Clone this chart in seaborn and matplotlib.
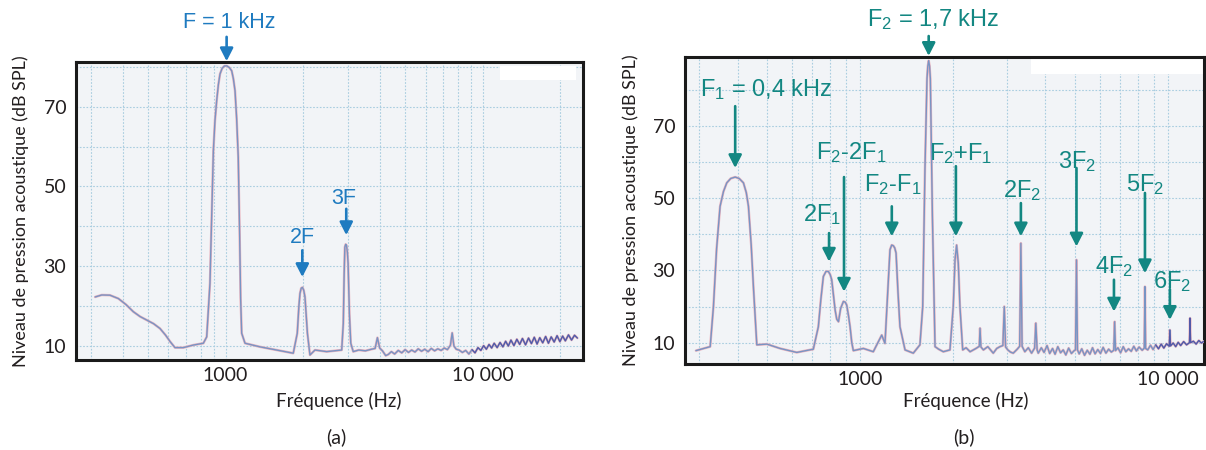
import pandas as pd
import matplotlib.pyplot as plt
import seaborn as sns
from matplotlib.patches import Rectangle

# ---- spectre (a) : son pur F = 1 kHz ----
freq_a = [311, 330, 355, 383, 410, 438, 465, 494, 525, 556, 585, 609, 636, 685, 750, 820, 845,
          870, 883, 897, 910, 924, 938, 952, 970, 990, 1011, 1035, 1057, 1073, 1089, 1105, 1121,
          1135, 1145, 1156, 1191, 1362, 1582, 1835, 1902, 1930, 1949, 1970, 1992, 2015, 2038,
          2060, 2083, 2131, 2229, 2475, 2832, 2873, 2895, 2913, 2935, 2956, 2980, 2999, 3035,
          3072, 3140, 3300, 3500, 3700, 3820, 3900, 3980, 4080, 4200, 4300, 4420, 4550, 4700,
          4850, 5000, 5150, 5300, 5460, 5620, 5790, 5960, 6140, 6320, 6510, 6700, 6900, 7100,
          7300, 7500, 7620, 7740, 7900, 8100, 8350, 8600, 8850, 9100, 9350, 9600, 9850, 10100,
          10350, 10600, 10850, 11100, 11400, 11700, 12000, 12300, 12600, 12900, 13250, 13600,
          13950, 14300, 14700, 15100, 15500, 15900, 16300, 16700, 17150, 17600, 18050, 18500,
          19000, 19500, 20000, 20500, 21000, 21600, 22200, 22800, 23400]
niveau_a = [22.3, 22.8, 22.75, 21.9, 20.4, 18.6, 17.4, 16.5, 15.6, 14.4, 12.7, 11.1, 9.6, 9.6,
            10.25, 10.7, 12.3, 25.7, 42, 59, 66.5, 71.5, 75.5, 78.2, 79.6, 80.2, 80.25, 79.8, 79,
            77, 74, 67, 57.3, 38, 22, 13.2, 10.7, 9.8, 9.0, 8.2, 13.2, 20, 23.2, 24.5, 24.7, 24,
            22.3, 18, 13.2, 7.75, 9.0, 8.6, 9.0, 15.7, 28, 34.8, 35.5, 35.25, 33.5, 30.7, 18,
            10.7, 8.6, 9.0, 8.8, 9.2, 9.4, 12.1, 9.5, 8.8, 7.6, 7.9, 8.6, 8.0, 8.9, 8.3, 9.1, 8.4,
            9.0, 8.5, 9.3, 8.7, 9.2, 8.6, 9.4, 8.8, 9.3, 8.9, 9.5, 9.1, 10.2, 13.3, 10.0, 9.2, 9.0,
            8.4, 8.9, 8.0, 9.1, 8.3, 9.6, 8.9, 10.1, 9.2, 10.4, 9.5, 10.7, 9.6, 10.9, 9.8, 11.2,
            10.0, 11.5, 10.1, 11.7, 10.4, 11.9, 10.3, 12.0, 10.6, 12.2, 10.5, 12.1, 10.8, 12.4,
            10.7, 12.3, 11.0, 12.6, 11.1, 12.5, 11.3, 12.8, 11.5, 12.7, 12.0]

# ---- spectre (b) : deux sons F1 = 0,4 kHz et F2 = 1,7 kHz ----
freq_b = [293, 326, 334, 342, 351, 360, 369, 380, 393, 405, 418, 427, 434, 443, 451, 462, 498,
          550, 623, 705, 732, 746, 760, 775, 789, 800, 809, 820, 830, 840, 851, 865, 883, 895,
          905, 917, 928, 940, 951, 1025, 1104, 1176, 1205, 1230, 1251, 1267, 1283, 1296, 1309,
          1328, 1348, 1400, 1489, 1565, 1598, 1625, 1650, 1660, 1671, 1682, 1692, 1718, 1752,
          1800, 1864, 1959, 2008, 2035, 2059, 2085, 2111, 2155, 2210, 2277, 2380, 2440, 2453,
          2470, 2516, 2600, 2708, 2780, 2848, 2910, 2941, 2970, 3020, 3080, 3145, 3240, 3300,
          3330, 3360, 3430, 3520, 3607, 3690, 3724, 3760, 3792, 3880, 3960, 4050, 4130, 4220,
          4300, 4390, 4480, 4570, 4660, 4760, 4860, 4960, 5010, 5047, 5085, 5150, 5250, 5360,
          5470, 5580, 5690, 5800, 5920, 6040, 6160, 6290, 6420, 6550, 6670, 6715, 6760, 6880,
          7020, 7160, 7300, 7450, 7600, 7750, 7900, 8060, 8250, 8380, 8423, 8465, 8600, 8780,
          8950, 9130, 9320, 9510, 9700, 9900, 10100, 10150, 10200, 10400, 10600, 10800, 11000,
          11250, 11500, 11750, 11800, 11850, 12100, 12350, 12600, 12850, 13100]
niveau_b = [7.8, 8.9, 20, 36, 47.7, 51.8, 54.2, 55.4, 55.8, 55.4, 54.2, 51.5, 47.7, 37, 24.6,
            9.4, 9.6, 8.4, 7.3, 8.2, 14.4, 22, 28.3, 29.7, 29.7, 28.8, 27.4, 23, 19, 16.5, 15.8,
            19.5, 21.4, 21.2, 20.4, 17.5, 14.4, 10, 7.8, 8.4, 7.5, 12.1, 9.8, 24, 35.7, 37, 36.8,
            36.2, 34.8, 24, 14.4, 8.0, 7.1, 9.4, 20, 58, 83, 86.5, 88, 86.5, 83, 45, 8.9, 8.2,
            7.5, 8.0, 20, 33, 37, 32, 20, 8.0, 8.6, 7.5, 8.4, 9.0, 14, 8.8, 8.0, 8.9, 7.1, 8.4,
            8.9, 9.2, 20, 8.8, 8.0, 7.4, 7.1, 8.2, 9.0, 37.5, 9.0, 7.5, 8.6, 7.1, 8.5, 15.4, 8.0,
            7.1, 8.6, 7.3, 9.2, 7.0, 8.4, 6.8, 8.9, 7.2, 8.0, 6.6, 8.5, 7.0, 7.8, 8.0, 32.9, 8.0,
            6.9, 8.3, 6.5, 7.9, 6.8, 8.6, 6.9, 8.1, 7.0, 8.7, 7.1, 8.2, 7.4, 7.9, 15.8, 7.8, 8.6,
            7.2, 8.9, 7.5, 8.3, 7.6, 9.0, 7.7, 8.8, 7.9, 8.5, 25.5, 8.4, 8.0, 9.3, 8.1, 9.4, 8.3,
            9.6, 8.5, 9.7, 9.0, 13.5, 9.1, 9.9, 8.9, 10.1, 9.2, 10.3, 9.4, 10.0, 16.8, 10.0,
            10.4, 9.6, 10.6, 9.9, 10.4]

# ---- annotations (a) ----
labels_a = ["F = 1 kHz", "2F", "3F"]
texte_a_x = [1030, 2000, 2880]
texte_a_y = [91, 37.3, 46.9]
fleche_a_x = [1010, 1990, 2950]
fleche_a_haut = [87.5, 34, 44.4]
fleche_a_bas = [81.4, 27.3, 37.8]

# ---- annotations (b) ----
labels_b = [r"F$_{\mathregular{2}}$ = 1,7 kHz", r"F$_{\mathregular{1}}$ = 0,4 kHz",
            r"2F$_{\mathregular{1}}$", r"F$_{\mathregular{2}}$-2F$_{\mathregular{1}}$",
            r"F$_{\mathregular{2}}$-F$_{\mathregular{1}}$", r"F$_{\mathregular{2}}$+F$_{\mathregular{1}}$",
            r"2F$_{\mathregular{2}}$", r"3F$_{\mathregular{2}}$", r"5F$_{\mathregular{2}}$",
            r"4F$_{\mathregular{2}}$", r"6F$_{\mathregular{2}}$"]
texte_b_x = [1726, 495, 751, 935, 1280, 2120, 3367, 5083, 8453, 6710, 10340]
texte_b_y = [99.4, 80.1, 45.4, 62.5, 53.6, 62.3, 52.1, 60.1, 53.7, 31.0, 26.9]
fleche_b_x = [1671, 393, 793, 887, 1268, 2048, 3330, 5047, 8423, 6680, 10150]
fleche_b_haut = [94.8, 75.4, 40.3, 55.8, 47.7, 58.8, 48.6, 58.3, 51.4, 27.4, 24.8]
fleche_b_bas = [89.3, 58.3, 32.4, 24.1, 39.4, 39.4, 39.4, 36.6, 29.2, 18.6, 16.3]

bleu = "#1f7bc0"
sarcelle = "#138782"

sns.set_theme(style="white")
plt.rcParams["font.family"] = ["Lato", "DejaVu Sans"]
plt.rcParams["mathtext.fontset"] = "custom"
plt.rcParams["mathtext.rm"] = "Liberation Sans"
plt.rcParams["mathtext.it"] = "Liberation Sans:italic"
plt.rcParams["mathtext.bf"] = "Liberation Sans:bold"

fig = plt.figure(figsize=(12.06, 4.5), dpi=100)
ax_a = fig.add_axes([76 / 1206, 1 - 360 / 450, 507 / 1206, 298 / 450])
ax_b = fig.add_axes([685 / 1206, 1 - 364 / 450, 519 / 1206, 307 / 450])

df_a = pd.DataFrame({"freq": freq_a, "niveau": niveau_a})
df_b = pd.DataFrame({"freq": freq_b, "niveau": niveau_b})


def tracer(ax, df, xlim, ylim):
    ax.set_facecolor("#f2f4f7")
    sns.lineplot(data=df, x="freq", y="niveau", ax=ax, color="#ebb4be", lw=1.8,
                 estimator=None, sort=False, zorder=3)
    sns.lineplot(data=df, x="freq", y="niveau", ax=ax, color="#7894c4", lw=1.0,
                 estimator=None, sort=False, zorder=4)
    sns.lineplot(data=df[df["freq"] > 9000], x="freq", y="niveau", ax=ax, color="#4a4aa0",
                 lw=0.9, estimator=None, sort=False, zorder=5, alpha=0.8)
    ax.set_xscale("log")
    ax.set_xticks([1000, 10000])
    ax.set_xticklabels(["1000", "10 000"])
    ax.set_xticks([f * d for d in (100, 1000, 10000) for f in range(2, 10)], minor=True)
    ax.set_yticks([10, 30, 50, 70])
    ax.set_yticks([20, 40, 60, 80], minor=True)
    ax.set_xlim(*xlim)
    ax.set_ylim(*ylim)
    ax.tick_params(which="both", length=0, labelsize=14, labelcolor="#231f20")
    ax.tick_params(axis="x", pad=5)
    ax.tick_params(axis="y", pad=7)
    ax.grid(True, which="both", color="#a9cde0", lw=0.8, ls=(0, (1.5, 1.5)))
    for s in ax.spines.values():
        s.set_visible(True)
        s.set_color("#1a1a1a")
        s.set_linewidth(2.2)
    ax.set_xlabel("Fréquence (Hz)", fontsize=13.5, color="#231f20")
    ax.set_ylabel("Niveau de pression acoustique (dB SPL)", fontsize=13, color="#231f20")
    ax.xaxis.label.set_va("center")
    ax.yaxis.label.set_va("center")


tracer(ax_a, df_a, (262, 24600), (6.5, 81.2))
tracer(ax_b, df_b, (270, 13100), (4.1, 89.0))

ax_a.xaxis.set_label_coords(0.519, -0.1376)
ax_a.yaxis.set_label_coords(-0.11, 0.5)
ax_b.xaxis.set_label_coords(0.541, -0.1205)
ax_b.yaxis.set_label_coords(-0.104, 0.5)

# taches blanches en haut a droite
ax_a.add_patch(Rectangle((0.836, 0.938), 0.151, 0.048, transform=ax_a.transAxes,
                         color="white", lw=0, zorder=2))
ax_b.add_patch(Rectangle((0.666, 0.944), 0.334, 0.048, transform=ax_b.transAxes,
                         color="white", lw=0, zorder=2))

fleche = dict(arrowstyle="-|>,head_length=0.55,head_width=0.28", lw=1.9, shrinkA=0,
              shrinkB=0, mutation_scale=14)

for lab, tx, ty in zip(labels_a, texte_a_x, texte_a_y):
    ax_a.text(tx, ty, lab, color=bleu, fontsize=15.5, ha="center", va="center",
              family="Liberation Sans", clip_on=False)
for x, y0, y1 in zip(fleche_a_x, fleche_a_haut, fleche_a_bas):
    ax_a.annotate("", xy=(x, y1), xytext=(x, y0), annotation_clip=False,
                  arrowprops=dict(fleche, color=bleu), zorder=6)

for lab, tx, ty in zip(labels_b, texte_b_x, texte_b_y):
    ax_b.text(tx, ty, lab, color=sarcelle, fontsize=17, ha="center", va="center",
              family="Liberation Sans", clip_on=False)
for x, y0, y1 in zip(fleche_b_x, fleche_b_haut, fleche_b_bas):
    ax_b.annotate("", xy=(x, y1), xytext=(x, y0), annotation_clip=False,
                  arrowprops=dict(fleche, color=sarcelle), zorder=6)

fig.text(336 / 1206, 1 - 437 / 450, "(a)", fontsize=14, ha="center", va="center", color="#231f20")
fig.text(964 / 1206, 1 - 437 / 450, "(b)", fontsize=14, ha="center", va="center", color="#231f20")

fig.savefig("out.png", dpi=100)
